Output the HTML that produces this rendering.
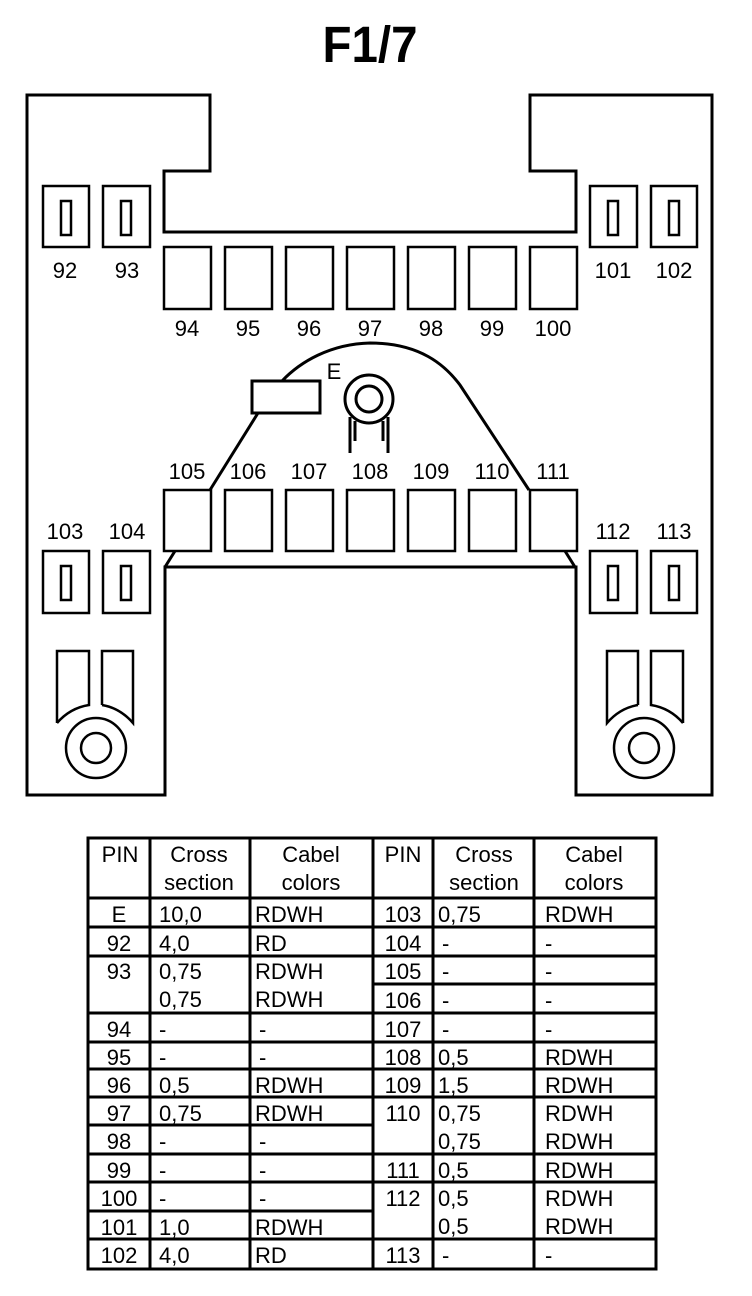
<!DOCTYPE html>
<html><head><meta charset="utf-8"><style>
html,body{margin:0;padding:0;background:#fff;}
svg{display:block;}
text{font-family:"Liberation Sans",Arial,sans-serif;fill:#000;}
</style></head><body>
<svg width="752" height="1296" viewBox="0 0 752 1296" xmlns="http://www.w3.org/2000/svg">
<text x="370" y="62" font-size="51" font-weight="bold" text-anchor="middle" textLength="95" lengthAdjust="spacingAndGlyphs">F1/7</text>

<g fill="none" stroke="#000" stroke-width="3">
<path d="M27,95 H210 V171 H164 V232 H576 V171 H530 V95 H712 V795 H576 V567 H165 V795 H27 Z"/>
<line x1="165" y1="567" x2="175" y2="551"/>
<line x1="575" y1="567" x2="565" y2="551"/>
<path d="M282,381 C300,362 330,344 370,343 C420,343 445,365 460,385 L529,490"/>
<line x1="258" y1="413" x2="210" y2="490"/>
<rect x="252" y="381" width="68" height="32"/>
<circle cx="369" cy="399" r="24"/>
<circle cx="369" cy="399" r="13"/>
<path d="M350,417 V453 M355,421 V441 M383,421 V441 M388,417 V453"/>

<g stroke-width="2.5">
<rect x="43" y="186" width="46" height="61"/><rect x="61" y="201" width="10" height="34"/>
<rect x="103" y="186" width="47" height="61"/><rect x="121" y="201" width="10" height="34"/>
<rect x="590" y="186" width="47" height="61"/><rect x="608" y="201" width="10" height="34"/>
<rect x="651" y="186" width="46" height="61"/><rect x="669" y="201" width="10" height="34"/>
<rect x="43" y="551" width="46" height="62"/><rect x="61" y="566" width="10" height="34"/>
<rect x="103" y="551" width="47" height="62"/><rect x="121" y="566" width="10" height="34"/>
<rect x="590" y="551" width="47" height="62"/><rect x="608" y="566" width="10" height="34"/>
<rect x="651" y="551" width="46" height="62"/><rect x="669" y="566" width="10" height="34"/>

<rect x="164" y="247" width="47" height="62"/><rect x="225" y="247" width="47" height="62"/>
<rect x="286" y="247" width="47" height="62"/><rect x="347" y="247" width="47" height="62"/>
<rect x="408" y="247" width="47" height="62"/><rect x="469" y="247" width="47" height="62"/>
<rect x="530" y="247" width="47" height="62"/>

<rect x="164" y="490" width="47" height="61"/><rect x="225" y="490" width="47" height="61"/>
<rect x="286" y="490" width="47" height="61"/><rect x="347" y="490" width="47" height="61"/>
<rect x="408" y="490" width="47" height="61"/><rect x="469" y="490" width="47" height="61"/>
<rect x="530" y="490" width="47" height="61"/>

<path d="M57,723 L57,651 L89,651 L89,705 Q70,708 57,723"/>
<path d="M102,705 L102,651 L133,651 L133,723 Q120,708 102,705"/>
<circle cx="96" cy="748" r="30"/><circle cx="96" cy="748" r="15"/>
<path d="M683,723 L683,651 L651,651 L651,705 Q670,708 683,723"/>
<path d="M638,705 L638,651 L607,651 L607,723 Q620,708 638,705"/>
<circle cx="644" cy="748" r="30"/><circle cx="644" cy="748" r="15"/>
</g>
</g>

<g font-size="22" text-anchor="middle">
<text x="65" y="278">92</text><text x="127" y="278">93</text>
<text x="613" y="278">101</text><text x="674" y="278">102</text>
<text x="187" y="336">94</text><text x="248" y="336">95</text><text x="309" y="336">96</text>
<text x="370" y="336">97</text><text x="431" y="336">98</text><text x="492" y="336">99</text><text x="553" y="336">100</text>
<text x="334" y="379">E</text>
<text x="187" y="479">105</text><text x="248" y="479">106</text><text x="309" y="479">107</text>
<text x="370" y="479">108</text><text x="431" y="479">109</text><text x="492" y="479">110</text><text x="553" y="479">111</text>
<text x="65" y="539">103</text><text x="127" y="539">104</text>
<text x="613" y="539">112</text><text x="674" y="539">113</text>
</g>

<g fill="none" stroke="#000" stroke-width="3">
<rect x="88" y="838" width="568" height="431"/>
<line x1="150" y1="838" x2="150" y2="1269"/><line x1="250" y1="838" x2="250" y2="1269"/>
<line x1="373" y1="838" x2="373" y2="1269"/><line x1="433" y1="838" x2="433" y2="1269"/>
<line x1="534" y1="838" x2="534" y2="1269"/>
<line x1="88" y1="898" x2="656" y2="898"/>
<line x1="88" y1="927" x2="656" y2="927"/>
<line x1="88" y1="956" x2="656" y2="956"/>
<line x1="373" y1="984" x2="656" y2="984"/>
<line x1="88" y1="1013" x2="656" y2="1013"/>
<line x1="88" y1="1042" x2="656" y2="1042"/>
<line x1="88" y1="1069" x2="656" y2="1069"/>
<line x1="88" y1="1097" x2="656" y2="1097"/>
<line x1="88" y1="1125" x2="373" y2="1125"/>
<line x1="88" y1="1154" x2="656" y2="1154"/>
<line x1="88" y1="1182" x2="656" y2="1182"/>
<line x1="88" y1="1211" x2="373" y2="1211"/>
<line x1="88" y1="1239" x2="656" y2="1239"/>
</g>
<g font-size="22">
<g text-anchor="middle">
<text x="120" y="862">PIN</text><text x="199" y="862">Cross</text><text x="199" y="890">section</text>
<text x="311" y="862">Cabel</text><text x="311" y="890">colors</text>
<text x="403" y="862">PIN</text><text x="484" y="862">Cross</text><text x="484" y="890">section</text>
<text x="594" y="862">Cabel</text><text x="594" y="890">colors</text>
</g>
<g text-anchor="middle">
<text x="119" y="922">E</text><text x="119" y="951">92</text><text x="119" y="979">93</text>
<text x="119" y="1037">94</text><text x="119" y="1065">95</text><text x="119" y="1093">96</text>
<text x="119" y="1121">97</text><text x="119" y="1149">98</text><text x="119" y="1178">99</text>
<text x="119" y="1206">100</text><text x="119" y="1235">101</text><text x="119" y="1263">102</text>
<text x="403" y="922">103</text><text x="403" y="951">104</text><text x="403" y="979">105</text>
<text x="403" y="1008">106</text><text x="403" y="1037">107</text><text x="403" y="1065">108</text>
<text x="403" y="1093">109</text><text x="403" y="1121">110</text><text x="403" y="1178">111</text>
<text x="403" y="1206">112</text><text x="403" y="1263">113</text>
</g>
<g>
<text x="159" y="922">10,0</text><text x="255" y="922">RDWH</text>
<text x="159" y="951">4,0</text><text x="255" y="951">RD</text>
<text x="159" y="979">0,75</text><text x="255" y="979">RDWH</text>
<text x="159" y="1007">0,75</text><text x="255" y="1007">RDWH</text>
<text x="159" y="1037">-</text><text x="259" y="1037">-</text>
<text x="159" y="1065">-</text><text x="259" y="1065">-</text>
<text x="159" y="1093">0,5</text><text x="255" y="1093">RDWH</text>
<text x="159" y="1121">0,75</text><text x="255" y="1121">RDWH</text>
<text x="159" y="1149">-</text><text x="259" y="1149">-</text>
<text x="159" y="1178">-</text><text x="259" y="1178">-</text>
<text x="159" y="1206">-</text><text x="259" y="1206">-</text>
<text x="159" y="1235">1,0</text><text x="255" y="1235">RDWH</text>
<text x="159" y="1263">4,0</text><text x="255" y="1263">RD</text>

<text x="438" y="922">0,75</text><text x="545" y="922">RDWH</text>
<text x="442" y="951">-</text><text x="545" y="951">-</text>
<text x="442" y="979">-</text><text x="545" y="979">-</text>
<text x="442" y="1008">-</text><text x="545" y="1008">-</text>
<text x="442" y="1037">-</text><text x="545" y="1037">-</text>
<text x="438" y="1065">0,5</text><text x="545" y="1065">RDWH</text>
<text x="438" y="1093">1,5</text><text x="545" y="1093">RDWH</text>
<text x="438" y="1121">0,75</text><text x="545" y="1121">RDWH</text>
<text x="438" y="1149">0,75</text><text x="545" y="1149">RDWH</text>
<text x="438" y="1178">0,5</text><text x="545" y="1178">RDWH</text>
<text x="438" y="1206">0,5</text><text x="545" y="1206">RDWH</text>
<text x="438" y="1234">0,5</text><text x="545" y="1234">RDWH</text>
<text x="442" y="1263">-</text><text x="545" y="1263">-</text>
</g>
</g>
</svg>
</body></html>
